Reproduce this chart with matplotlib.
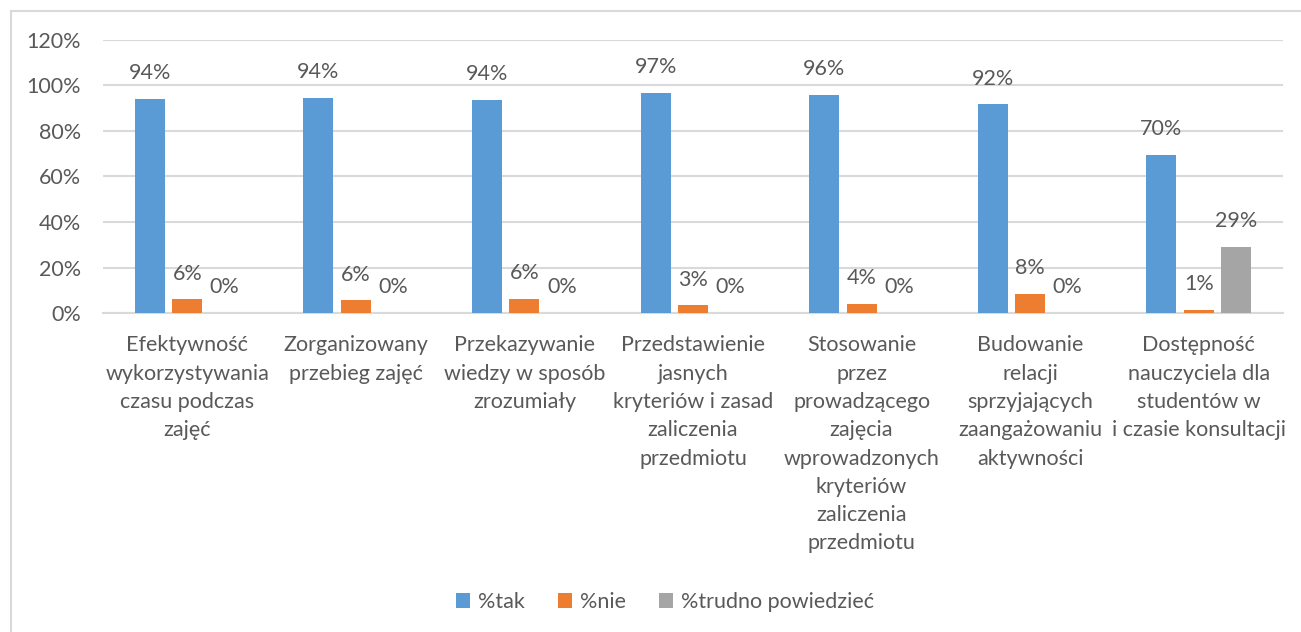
import matplotlib.pyplot as plt
import matplotlib.patches as mpatches
from matplotlib.ticker import FuncFormatter
import numpy as np

plt.rcParams["font.family"] = ["Lato", "DejaVu Sans"]

categories = [
    "Efektywność\nwykorzystywania\nczasu podczas\nzajęć",
    "Zorganizowany\nprzebieg zajęć",
    "Przekazywanie\nwiedzy w sposób\nzrozumiały",
    "Przedstawienie\njasnych\nkryteriów i zasad\nzaliczenia\nprzedmiotu",
    "Stosowanie\nprzez\nprowadzącego\nzajęcia\nwprowadzonych\nkryteriów\nzaliczenia\nprzedmiotu",
    "Budowanie\nrelacji\nsprzyjających\nzaangażowaniu\naktywności",
    "Dostępność\nnauczyciela dla\nstudentów w\ni czasie konsultacji",
]
series_names = ["%tak", "%nie", "%trudno powiedzieć"]
tak = [0.940, 0.945, 0.938, 0.967, 0.960, 0.917, 0.696]
nie = [0.060, 0.055, 0.062, 0.033, 0.040, 0.083, 0.014]
trudno = [0.0, 0.0, 0.0, 0.0, 0.0, 0.0, 0.290]

colors = ["#5B9BD5", "#ED7D31", "#A5A5A5"]
text_color = "#595959"
grid_color = "#D9D9D9"

W, H = 1301, 632
fig = plt.figure(figsize=(W / 100, H / 100), dpi=100)
ax = fig.add_axes([103 / W, 1 - 313 / H, (1283 - 103) / W, (313 - 40) / H])

x = np.arange(len(categories))
width = 0.178
step = 0.222
for i, (vals, name, col) in enumerate(zip([tak, nie, trudno], series_names, colors)):
    pos = x + (i - 1) * step
    ax.bar(pos, vals, width=width, color=col, label=name, zorder=3)
    for px, v in zip(pos, vals):
        ax.annotate(f"{round(v * 100):.0f}%", (px, v), xytext=(0, 18.5),
                    textcoords="offset points", ha="center", va="center",
                    fontsize=15.5, color=text_color)

ax.set_xlim(-0.5, len(categories) - 0.5)
ax.set_ylim(0, 1.2)
ax.set_yticks(np.arange(0, 1.21, 0.2))
ax.yaxis.set_major_formatter(FuncFormatter(lambda v, _: f"{v * 100:.0f}%"))
ax.set_xticks(x)
ax.set_xticklabels(categories, linespacing=1.52)
ax.tick_params(axis="both", length=0, labelsize=15.5, labelcolor=text_color)
ax.tick_params(axis="y", pad=16)
ax.tick_params(axis="x", pad=16)
ax.grid(axis="y", color=grid_color, linewidth=1.5, zorder=0)
for side in ["top", "right", "left"]:
    ax.spines[side].set_visible(False)
ax.spines["bottom"].set_color(grid_color)
ax.spines["bottom"].set_linewidth(1.5)

fig.legend(loc="center", bbox_to_anchor=(665 / W, 1 - 602 / H), ncol=3,
           frameon=False, fontsize=15.5, labelcolor=text_color,
           handlelength=0.65, handleheight=0.65, handletextpad=0.4,
           columnspacing=1.5)

border = mpatches.Rectangle((10.5 / W, -0.05), 1.1, 1 - 11 / H + 0.05,
                            transform=fig.transFigure, fill=False,
                            edgecolor=grid_color, linewidth=1.5)
fig.patches.append(border)

fig.savefig("out.png", dpi=100)
